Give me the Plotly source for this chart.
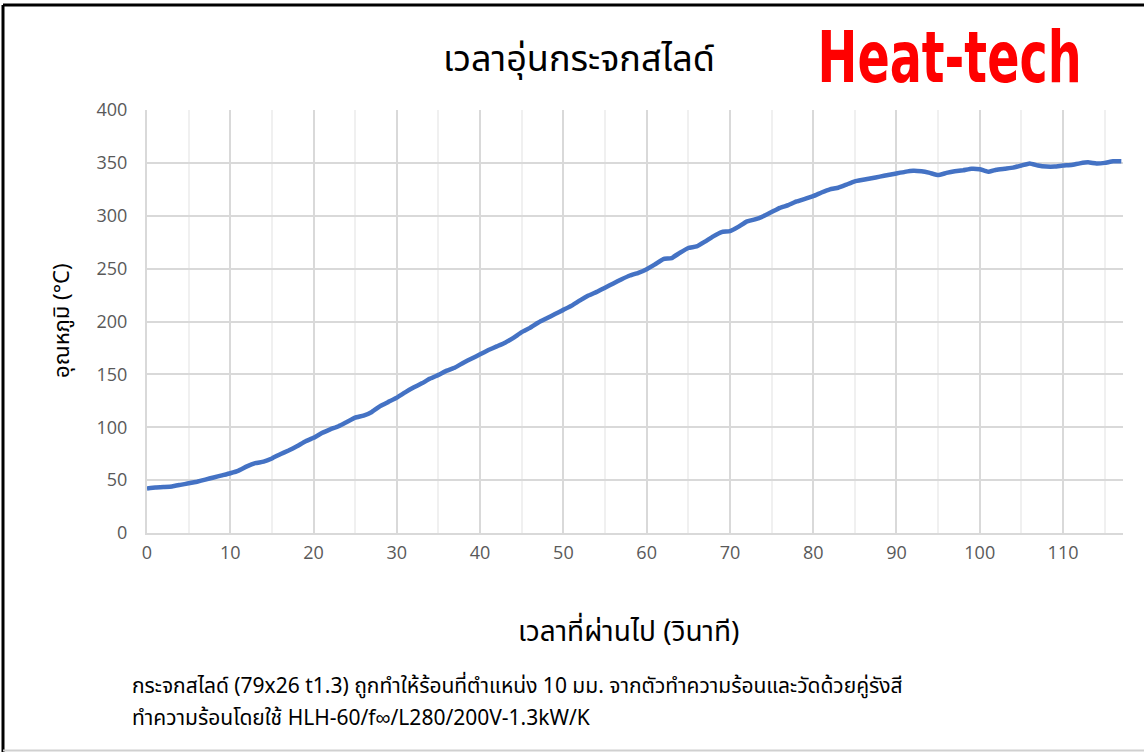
import plotly.graph_objects as go

# Data
time_s = list(range(0, 118))
temp_c = [42, 43, 43.5, 44, 45.5, 47, 48.5, 50.5, 52.5, 54.5,
          56.5, 59, 63, 66, 67.5, 70.5, 74.5, 78, 82, 86.5,
          90, 94.5, 98, 101, 105, 109, 111, 114.5, 120, 124,
          128, 133, 137.5, 141.5, 146, 149.5, 153.5, 156.5, 161, 165,
          169, 173, 176.5, 180, 184.5, 190, 194, 199, 203, 207,
          211, 215, 220, 224.5, 228, 232, 236, 240, 243.5, 246,
          249.5, 254, 259, 260, 265, 269.5, 271, 275.5, 280.5, 284.5,
          285.5, 289.5, 294.5, 296.5, 299.5, 303.5, 307.5, 310, 313.5, 316,
          318.5, 322, 325, 326.5, 329.5, 332.5, 334, 335.5, 337, 338.5,
          340, 341.5, 342.5, 342, 340.5, 338.5, 340.5, 342, 343, 344.5,
          344, 341.5, 343.5, 344.5, 345.5, 347.5, 349.5, 347.5, 346.5, 346.5,
          347.5, 348, 349.5, 350.5, 349.5, 350, 351.5, 351.5]
x_ticks = [0, 10, 20, 30, 40, 50, 60, 70, 80, 90, 100, 110]
y_ticks = [0, 50, 100, 150, 200, 250, 300, 350, 400]

title_text = "เวลาอุ่นกระจกสไลด์"
brand_text = "Heat-tech"
x_title = "เวลาที่ผ่านไป (วินาที)"
y_title = "อุณหภูมิ (°C)"
caption_1 = "กระจกสไลด์ (79x26 t1.3) ถูกทำให้ร้อนที่ตำแหน่ง 10 มม. จากตัวทำความร้อนและวัดด้วยคู่รังสี"
caption_2 = "ทำความร้อนโดยใช้ HLH-60/f∞/L280/200V-1.3kW/K"

W, H = 1144, 752
L, R, T, B = 147, 1123, 110, 533


def px(x):
    return (x - L) / (R - L)


def py(y):
    return (B - y) / (B - T)


fig = go.Figure()
fig.add_trace(go.Scatter(
    x=time_s, y=temp_c, mode="lines",
    line=dict(color="#4472C4", width=4.5, shape="spline", smoothing=0.3),
    hoverinfo="x+y", showlegend=False,
))

tick_font = dict(family="Open Sans, Liberation Sans, sans-serif", size=18, color="#595959")
thai_font = "Noto Sans Thai, Noto Sans, Tahoma, Liberation Sans, DejaVu Sans, sans-serif"

fig.update_layout(
    width=W, height=H,
    margin=dict(l=L, r=W - R, t=T, b=H - B),
    paper_bgcolor="white", plot_bgcolor="white",
    xaxis=dict(
        range=[0, 117.2], tickvals=x_ticks, showgrid=True,
        gridcolor="#d9d9d9", gridwidth=2,
        minor=dict(dtick=5, tick0=0, showgrid=True, gridcolor="#f0f0f0", gridwidth=2),
        zeroline=False, showline=True, linecolor="#d9d9d9", linewidth=2,
        ticks="outside", ticklen=2, tickcolor="rgba(0,0,0,0)",
        tickfont=tick_font, fixedrange=True,
    ),
    yaxis=dict(
        range=[0, 400], tickvals=y_ticks, showgrid=True,
        gridcolor="#d9d9d9", gridwidth=2,
        zeroline=False, showline=True, linecolor="#d9d9d9", linewidth=2,
        ticks="outside", ticklen=14, tickcolor="rgba(0,0,0,0)",
        tickfont=tick_font, fixedrange=True,
    ),
    font=dict(family=thai_font),
)

fig.add_annotation(
    text=title_text, x=px(579), y=py(60), xref="paper", yref="paper",
    xanchor="center", yanchor="middle", showarrow=False,
    font=dict(family=thai_font, size=36, color="#000000"),
)
fig.add_annotation(
    text=x_title, x=px(628), y=py(632), xref="paper", yref="paper",
    xanchor="center", yanchor="middle", showarrow=False,
    font=dict(family=thai_font, size=28, color="#000000"),
)
for cap, ypix in ((caption_1, 686), (caption_2, 718)):
    fig.add_annotation(
        text=cap, x=px(130), y=py(ypix), xref="paper", yref="paper",
        xanchor="left", yanchor="middle", align="left", showarrow=False,
        font=dict(family=thai_font, size=21, color="#000000"),
    )
fig.add_annotation(
    text=y_title, x=px(62), y=py(321), xref="paper", yref="paper",
    textangle=-90, showarrow=False, xanchor="center", yanchor="middle",
    font=dict(family=thai_font, size=22, color="#000000"),
)
fig.add_annotation(
    text="<b>" + brand_text + "</b>", x=px(949), y=py(57), xref="paper", yref="paper",
    showarrow=False, xanchor="center", yanchor="middle",
    font=dict(family="Liberation Sans Narrow, DejaVu Sans Condensed, Arial Narrow, Liberation Sans, sans-serif",
              size=72, color="#FF0000"),
)

# outer frame
fig.add_shape(type="line", xref="paper", yref="paper",
              x0=px(3), x1=px(3), y0=py(5), y1=py(752), line=dict(color="black", width=3))
fig.add_shape(type="line", xref="paper", yref="paper",
              x0=px(3), x1=px(1144), y0=py(5), y1=py(5), line=dict(color="black", width=3))
fig.add_shape(type="line", xref="paper", yref="paper",
              x0=px(3), x1=px(1144), y0=py(750.5), y1=py(750.5), line=dict(color="#d0d0d0", width=2))

post_js = """
document.body.style.margin = '0';
var gd = document.getElementById('{plot_id}');
gd.querySelectorAll('text.annotation-text').forEach(function (t) {
  if (t.textContent === 'Heat-tech') {
    var bb = t.getBBox();
    var cx = bb.x + bb.width / 2;
    var sx = 264 / bb.width;
    t.setAttribute('transform', 'translate(' + cx + ',0) scale(' + sx + ',1) translate(' + (-cx) + ',0)');
  }
});
"""

fig.write_html("out.html", post_script=post_js, config={"displayModeBar": False})
